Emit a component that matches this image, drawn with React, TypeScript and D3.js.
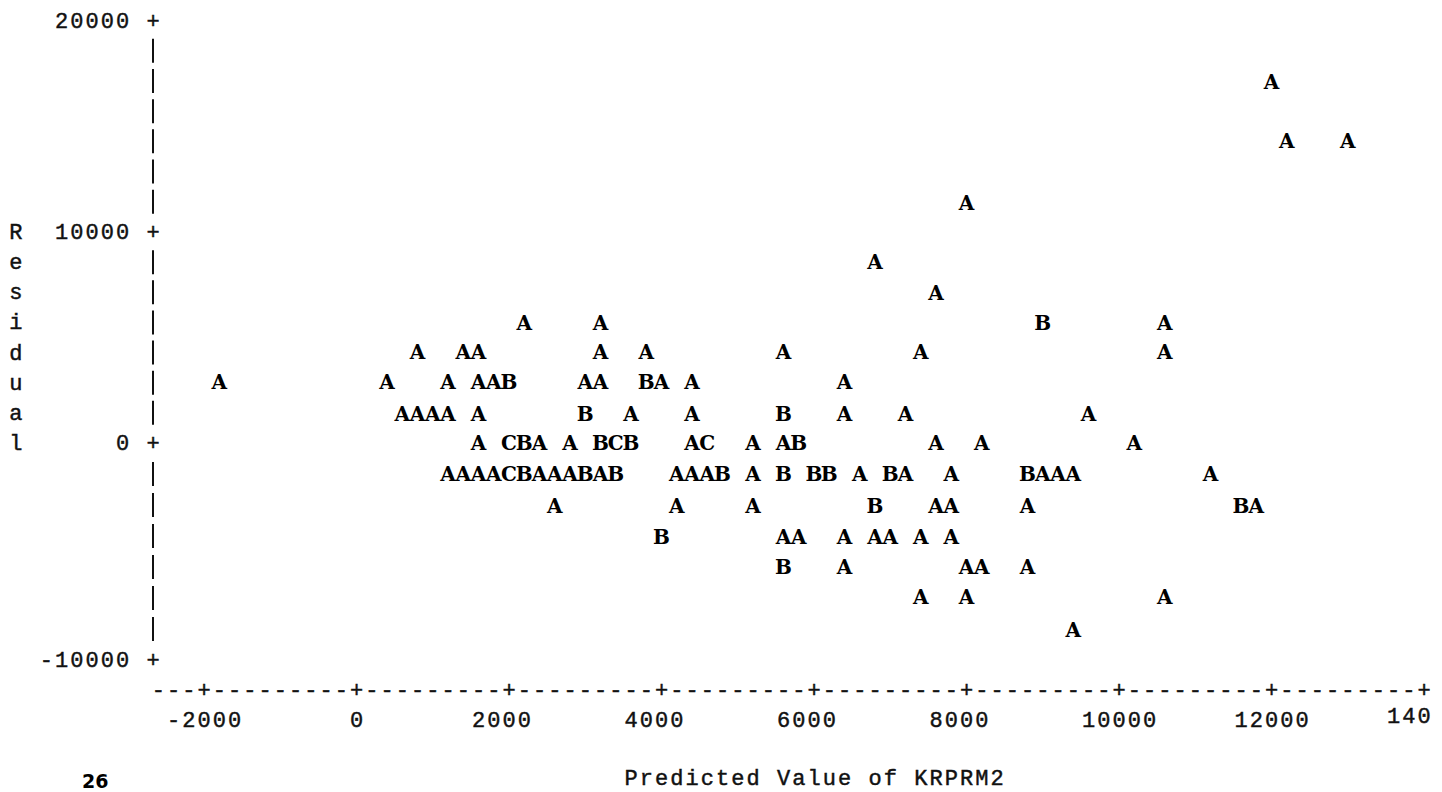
import React from 'react';
import * as d3 from 'd3';

// SAS line-printer residual plot. Legend: A = 1 obs, B = 2 obs, C = 3 obs.
// Each point is [predicted value, residual].
const pointsA: [number, number][] = [
  [12000, 17100],
  [12200, 14300], [13000, 14300],
  [8000, 11400],
  [6800, 8600],
  [7600, 7100],
  [2200, 5700], [3200, 5700], [10600, 5700],
  [800, 4300], [1400, 4300], [1600, 4300], [3200, 4300], [3800, 4300], [5600, 4300], [7400, 4300], [10600, 4300],
  [-1800, 2900], [400, 2900], [1200, 2900], [1600, 2900], [1800, 2900], [3000, 2900], [3200, 2900], [4000, 2900], [4400, 2900], [6400, 2900],
  [600, 1400], [800, 1400], [1000, 1400], [1200, 1400], [1600, 1400], [3600, 1400], [4400, 1400], [6400, 1400], [7200, 1400], [9600, 1400],
  [1600, 0], [2400, 0], [2800, 0], [4400, 0], [5200, 0], [5600, 0], [7600, 0], [8200, 0], [10200, 0],
  [1200, -1400], [1400, -1400], [1600, -1400], [1800, -1400], [2400, -1400], [2600, -1400], [2800, -1400], [3200, -1400],
  [4200, -1400], [4400, -1400], [4600, -1400], [5200, -1400], [6600, -1400], [7200, -1400], [7800, -1400],
  [9000, -1400], [9200, -1400], [9400, -1400], [11200, -1400],
  [2600, -2900], [4200, -2900], [5200, -2900], [7600, -2900], [7800, -2900], [8800, -2900], [11800, -2900],
  [5600, -4300], [5800, -4300], [6400, -4300], [6800, -4300], [7000, -4300], [7400, -4300], [7800, -4300],
  [6400, -5700], [8000, -5700], [8200, -5700], [8800, -5700],
  [7400, -7100], [8000, -7100], [10600, -7100],
  [9400, -8600],
];

const pointsB: [number, number][] = [
  [9000, 5700],
  [2000, 2900], [3800, 2900],
  [3000, 1400], [5600, 1400],
  [2200, 0], [3200, 0], [3600, 0], [5800, 0],
  [2200, -1400], [3000, -1400], [3400, -1400], [4800, -1400], [5600, -1400], [6000, -1400], [6200, -1400], [7000, -1400], [8800, -1400],
  [6800, -2900], [11600, -2900],
  [4000, -4300],
  [5600, -5700],
];

const pointsC: [number, number][] = [
  [2000, 0], [3400, 0], [4600, 0],
  [2000, -1400],
];

const xTicks = [-2000, 0, 2000, 4000, 6000, 8000, 10000, 12000, 14000];
const xTickLabels = ['-2000', '0', '2000', '4000', '6000', '8000', '10000', '12000', '14000'];
const yTicks = [-10000, 0, 10000, 20000];
const yTickLabels = ['-10000', '0', '10000', '20000'];
const yTitle = 'Residual';
const xTitle = 'Predicted Value of KRPRM2';
const pageNumber = '26';

const W = 1442;
const H = 792;

const mono = "'Liberation Mono', 'DejaVu Sans Mono', monospace";
const serif = "'DejaVu Serif', serif";

export default function App() {
  // one printer column = 200 units, one printer line = 10000/7 units
  const x = d3.scaleLinear().domain([-2000, 14000]).range([204, 1424]);
  const y = d3.scaleLinear().domain([-10000, 0, 10000, 20000]).range([660, 443, 232, 20.5]);
  const unitsPerCol = 200;
  const rowUnits = 10000 / 7;
  const colW = x(unitsPerCol) - x(0);
  const fs = 22;
  const adv = 0.6 * fs;
  const ls = colW - adv;
  const axisX = 153;
  const axisRowY = 690;
  const tickLabelY = 720;
  const titleY = 778;
  const firstCol = -13;
  const lastCol = 70;

  const txt = { fontFamily: mono, fontSize: fs, fill: '#111', stroke: '#111', strokeWidth: 0.45 };

  const axisStr = d3.range(firstCol, lastCol + 1).map((k) => (k % 10 === 0 ? '+' : '-')).join('');

  const barRows = d3.range(-7, 15).filter((i) => i % 7 !== 0);

  const marks = [
    ...pointsA.map((p) => ({ p, s: 'A' })),
    ...pointsB.map((p) => ({ p, s: 'B' })),
    ...pointsC.map((p) => ({ p, s: 'C' })),
  ];

  return (
    <>
      <style>{'body{margin:0;background:#fff}'}</style>
      <svg width={W} height={H} style={{ display: 'block', background: '#fff' }}>
        {/* vertical axis */}
        {barRows.map((i) => (
          <line key={i} x1={axisX} x2={axisX} y1={y(i * rowUnits) - 12} y2={y(i * rowUnits) + 12} stroke="#111" strokeWidth={2} />
        ))}
        {yTicks.map((t, i) => {
          const s = yTickLabels[i];
          const start = axisX - (s.length + 1) * colW - adv / 2;
          return (
            <g key={t}>
              <text x={axisX} y={y(t)} dy="0.32em" textAnchor="middle" {...txt}>+</text>
              <text x={start} y={y(t)} dy="0.32em" letterSpacing={ls} {...txt}>{s}</text>
            </g>
          );
        })}
        <text {...txt} textAnchor="middle">
          {yTitle.split('').map((c, i) => (
            <tspan key={i} x={axisX - 9 * colW} y={y((7 - i) * rowUnits)} dy="0.32em">{c}</tspan>
          ))}
        </text>

        {/* horizontal axis */}
        <text x={x(firstCol * unitsPerCol) - adv / 2} y={axisRowY} dy="0.3em" letterSpacing={ls} {...txt}>
          {axisStr}
        </text>
        {xTicks.map((t, i) => {
          const full = xTickLabels[i];
          const startCol = t / unitsPerCol - Math.floor(full.length / 2);
          const s = full.slice(0, lastCol - startCol + 1);
          // the truncated last label sits a little higher in the printout
          const lift = s.length < full.length ? 4 : 0;
          return (
            <text key={t} x={x(startCol * unitsPerCol) - adv / 2} y={tickLabelY - lift} dy="0.32em" letterSpacing={ls} {...txt}>
              {s}
            </text>
          );
        })}
        <text x={x(18 * unitsPerCol) - adv / 2} y={titleY} dy="0.32em" letterSpacing={ls} {...txt}>
          {xTitle}
        </text>

        {/* plotted symbols */}
        {marks.map((m, i) => (
          <text key={i} x={x(m.p[0])} y={y(m.p[1])} dy="0.36em" textAnchor="middle" fontFamily={serif} fontWeight="bold" fontSize={20} fill="#000">
            {m.s}
          </text>
        ))}

        <text x={82} y={788} fontFamily="'DejaVu Sans', sans-serif" fontWeight="bold" fontSize={19} fill="#000">{pageNumber}</text>
      </svg>
    </>
  );
}
